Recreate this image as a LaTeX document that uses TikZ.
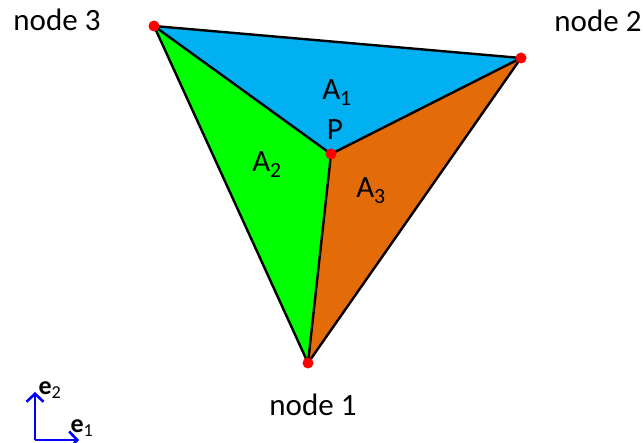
\documentclass[tikz,border=0pt]{standalone}
\usepackage{fontspec}
\setmainfont{Carlito}
\usetikzlibrary{arrows.meta}
\definecolor{areablue}{RGB}{0,176,240}
\definecolor{areagreen}{RGB}{0,255,0}
\definecolor{areaorange}{RGB}{227,108,9}
\tikzset{
	edge/.style={line width=2.4pt, line join=round},
	vertex/.style={circle, fill=red, inner sep=0pt, minimum size=11pt},
	label/.style={anchor=base, inner sep=0pt},
	axis/.style={blue, line width=2.6pt, -{Straight Barb[length=8pt, width=17pt, line width=2.6pt]}}
}
\begin{document}
\begin{tikzpicture}[x=1pt, y=-1pt, font=\fontsize{31}{35}\selectfont]
	\useasboundingbox (0,0) rectangle (643,443);
	% corners of the triangle and the inner point
	\coordinate (n1) at (308,363);
	\coordinate (n2) at (521,58);
	\coordinate (n3) at (154,26);
	\coordinate (p) at (331,154);
	% sub-areas
	\fill[areablue] (n3) -- (n2) -- (p) -- cycle;
	\fill[areagreen] (n3) -- (p) -- (n1) -- cycle;
	\fill[areaorange] (p) -- (n2) -- (n1) -- cycle;
	\draw[edge] (n1) -- (n2) -- (n3) -- cycle;
	\draw[edge] (p) -- (n1); \draw[edge] (p) -- (n2); \draw[edge] (p) -- (n3);
	\node[vertex] (v1) at (n1) {}; \node[vertex] (v2) at (n2) {};
	\node[vertex] (v3) at (n3) {}; \node[vertex] (vp) at (p) {};
	% texts
	\node[label] (lab1) at (313,416) {node 1};
	\node[label] (lab2) at (598,32) {node 2};
	\node[label] (lab3) at (57,31) {node 3};
	\node[label] (labp) at (335,140) {P};
	\node[label] (a1) at (337,100) {A\textsubscript{1}};
	\node[label] (a2) at (267,172) {A\textsubscript{2}};
	\node[label] (a3) at (371,198) {A\textsubscript{3}};
	% base vectors
	\coordinate (o) at (35,440);
	\coordinate (e1tip) at (79,440);
	\coordinate (e2tip) at (35,392);
	\draw[axis] (o) -- (e1tip);
	\draw[axis] (o) -- (e2tip);
	\node[label, font=\fontsize{26}{30}\selectfont] (e1) at (82,433) {\textbf{e}\textsubscript{1}};
	\node[label, font=\fontsize{26}{30}\selectfont] (e2) at (50,395) {\textbf{e}\textsubscript{2}};
\end{tikzpicture}
\end{document}
